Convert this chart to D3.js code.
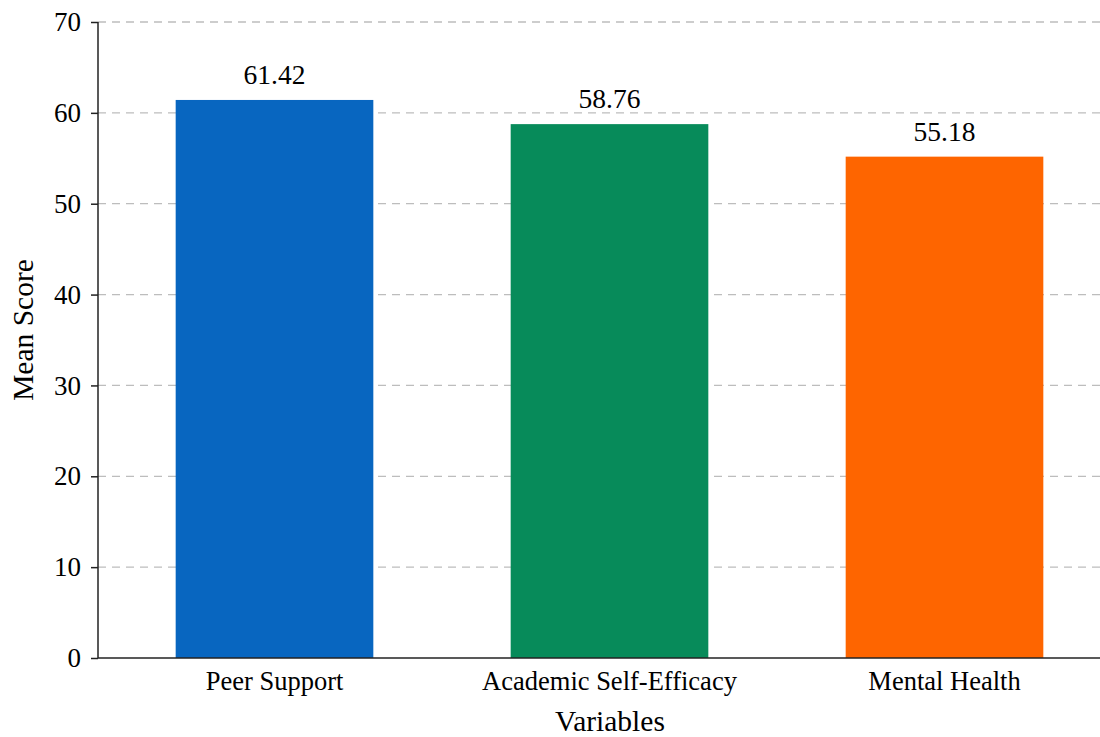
<!DOCTYPE html>
<html>
<head>
<meta charset="utf-8">
<script src="https://cdn.jsdelivr.net/npm/d3@7"></script>
<style>
  body { margin: 0; background: #fff; }
  text { font-family: "Liberation Serif", "Times New Roman", serif; fill: #000; }
</style>
</head>
<body>
<div id="chart"></div>
<script>
// Data
const categories = ["Peer Support", "Academic Self-Efficacy", "Mental Health"];
const values = [61.42, 58.76, 55.18];
const colors = ["#0866c0", "#078b5a", "#fe6500"];
const yTicks = [0, 10, 20, 30, 40, 50, 60, 70];

const width = 1100;
const height = 737;
const margin = { top: 22, right: 0, bottom: 79, left: 98 };

const svg = d3.select("#chart").append("svg")
  .attr("width", width)
  .attr("height", height);

// Scales
const y = d3.scaleLinear().domain([0, 70]).range([height - margin.bottom, margin.top]);
const x = d3.scaleBand()
  .domain(categories)
  .range([107, 1112])
  .paddingInner(0.41)
  .paddingOuter(0.205);

// Grid lines
svg.append("g")
  .selectAll("line")
  .data(yTicks.filter(d => d > 0))
  .join("line")
  .attr("x1", margin.left)
  .attr("x2", width)
  .attr("y1", d => y(d))
  .attr("y2", d => y(d))
  .attr("stroke", "#bdbdbd")
  .attr("stroke-width", 1.3)
  .attr("stroke-dasharray", "8,6");

// Bars
svg.append("g")
  .selectAll("rect")
  .data(categories)
  .join("rect")
  .attr("x", d => x(d))
  .attr("y", (d, i) => y(values[i]))
  .attr("width", x.bandwidth())
  .attr("height", (d, i) => y(0) - y(values[i]))
  .attr("fill", (d, i) => colors[i]);

// Value labels
svg.append("g")
  .selectAll("text")
  .data(categories)
  .join("text")
  .attr("x", d => x(d) + x.bandwidth() / 2)
  .attr("y", (d, i) => y(values[i]) - 16)
  .attr("text-anchor", "middle")
  .attr("font-size", 27.5)
  .text((d, i) => values[i].toFixed(2));

// Y axis
const yAxis = svg.append("g")
  .attr("transform", `translate(${margin.left},0)`)
  .call(d3.axisLeft(y).tickValues(yTicks).tickSize(7).tickPadding(10));
yAxis.select(".domain").attr("stroke", "#222").attr("stroke-width", 1.5).attr("d", `M0,${y(70)}V${y(0)}`);
yAxis.selectAll(".tick line").attr("stroke", "#222").attr("stroke-width", 1.5);
yAxis.selectAll(".tick text")
  .attr("font-size", 27)
  .attr("font-family", "Liberation Serif, serif")
  .attr("fill", "#000");

// X axis
const xAxis = svg.append("g")
  .attr("transform", `translate(0,${y(0)})`)
  .call(d3.axisBottom(x).tickSize(0).tickPadding(13));
xAxis.select(".domain").attr("stroke", "#222").attr("stroke-width", 1.5).attr("d", `M${margin.left},0H${width}`);
xAxis.selectAll(".tick text")
  .attr("font-size", 26.5)
  .attr("font-family", "Liberation Serif, serif")
  .attr("fill", "#000");

// Axis titles
svg.append("text")
  .attr("x", 610)
  .attr("y", 731)
  .attr("text-anchor", "middle")
  .attr("font-size", 29.5)
  .text("Variables");

svg.append("text")
  .attr("transform", "translate(33,330) rotate(-90)")
  .attr("text-anchor", "middle")
  .attr("font-size", 29.5)
  .text("Mean Score");
</script>
</body>
</html>
